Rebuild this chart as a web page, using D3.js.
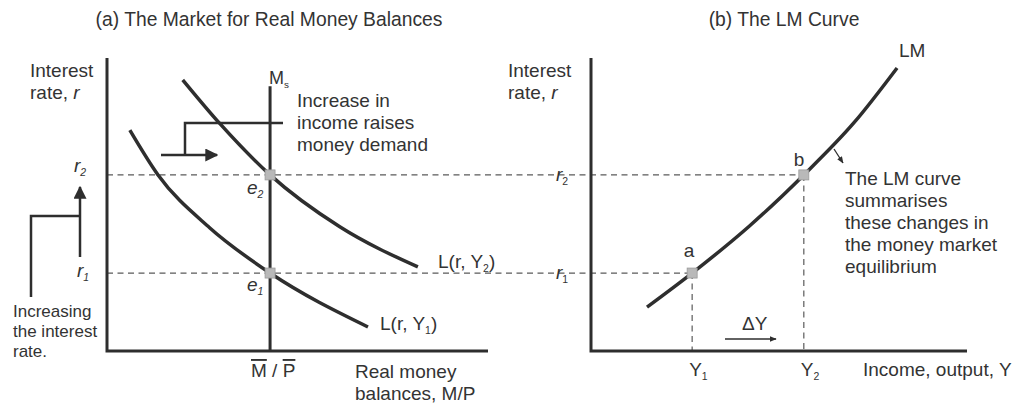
<!DOCTYPE html>
<html>
<head>
<meta charset="utf-8">
<script src="https://cdn.jsdelivr.net/npm/d3@7/dist/d3.min.js"></script>
<style>
  html, body { margin: 0; padding: 0; background: #fff; }
  svg { display: block; }
  text { font-family: "Liberation Sans", Arial, sans-serif; fill: #333; }
</style>
</head>
<body>
<svg id="chart" width="1032" height="403"></svg>
<script>
// Interest rate levels (shared vertical scale, 0–100)
const rateLabels = ["r1", "r2"];
const rateValues = [26.6, 60.1];

// Income levels on the LM panel (0–100)
const incomeLabels = ["Y1", "Y2"];
const incomeValues = [26.9, 56.6];

// Real money supply (vertical Ms line) on the money-market panel
const moneySupply = 42.8;
const moneySupplyTop = 90.4;

// Money demand curves L(r, Y): [real balances, interest rate]
const demandY1 = [[6.0, 75.4], [13.4, 60.1], [27.0, 42.0], [42.8, 26.6], [68.5, 8.2]];
const demandY2 = [[19.9, 92.5], [29.7, 77.5], [42.8, 60.1], [61.2, 42.3], [81.6, 28.7]];

// LM curve: [income, interest rate]
const lmCurve = [[14.9, 15.0], [26.9, 26.6], [42.0, 42.5], [56.6, 60.1], [70.0, 78.0], [81.4, 96.6]];

const svg = d3.select("#chart");
const ink = "#2e2e2e";
const dashInk = "#5a5a5a";

// Scales
const y = d3.scaleLinear().domain([0, 100]).range([351, 58]);
const xL = d3.scaleLinear().domain([0, 100]).range([107, 488]);
const xR = d3.scaleLinear().domain([0, 100]).range([591, 967]);

// Arrowhead markers
const defs = svg.append("defs");
defs.append("marker").attr("id", "headBig")
  .attr("viewBox", "0 0 10 10").attr("refX", 9).attr("refY", 5)
  .attr("markerUnits", "userSpaceOnUse").attr("markerWidth", 13).attr("markerHeight", 13)
  .attr("orient", "auto")
  .append("path").attr("d", "M0,0 L10,5 L0,10 Z").attr("fill", ink);
defs.append("marker").attr("id", "headSmall")
  .attr("viewBox", "0 0 10 10").attr("refX", 9).attr("refY", 5)
  .attr("markerUnits", "userSpaceOnUse").attr("markerWidth", 7).attr("markerHeight", 7)
  .attr("orient", "auto")
  .append("path").attr("d", "M0,1 L10,5 L0,9 Z").attr("fill", ink);

// Text helper
function label(x, yy, str, size = 19, opts = {}) {
  const t = svg.append("text").attr("x", x).attr("y", yy)
    .attr("font-size", size).attr("text-anchor", opts.anchor || "start");
  if (opts.italic) t.attr("font-style", "italic");
  t.text(str);
  return t;
}
function subLabel(x, yy, main, sub, size = 19, opts = {}) {
  const t = svg.append("text").attr("x", x).attr("y", yy)
    .attr("font-size", size).attr("text-anchor", opts.anchor || "start");
  const m = t.append("tspan").text(main);
  if (opts.italic) m.attr("font-style", "italic");
  const s = t.append("tspan").attr("font-size", size * 0.55).attr("dy", size * 0.22).text(sub);
  if (opts.italicSub) s.attr("font-style", "italic");
  if (opts.after) t.append("tspan").attr("font-size", size).attr("dy", -size * 0.22).text(opts.after);
  return t;
}

// Dashed guide lines for r1, r2 across both panels
const dashes = svg.append("g").attr("stroke", dashInk).attr("stroke-width", 1.2)
  .attr("stroke-dasharray", "6,4.5").attr("fill", "none");
rateValues.forEach((r, i) => {
  dashes.append("line").attr("x1", xL(0)).attr("x2", xR(incomeValues[i]))
    .attr("y1", y(r)).attr("y2", y(r));
  dashes.append("line").attr("x1", xR(incomeValues[i])).attr("x2", xR(incomeValues[i]))
    .attr("y1", y(r)).attr("y2", y(0));
});

// Axes (plain L-shaped frames)
const axes = svg.append("g").attr("stroke", ink).attr("stroke-width", 3).attr("fill", "none");
axes.append("path").attr("d", `M${xL(0)},${y(100)} L${xL(0)},${y(0)} L${xL(100)},${y(0)}`);
axes.append("path").attr("d", `M${xR(0)},${y(100)} L${xR(0)},${y(0)} L${xR(100)},${y(0)}`);

// Money supply line
svg.append("line").attr("x1", xL(moneySupply)).attr("x2", xL(moneySupply))
  .attr("y1", y(moneySupplyTop)).attr("y2", y(0))
  .attr("stroke", ink).attr("stroke-width", 3);

// Demand curves
const lineL = d3.line().x(d => xL(d[0])).y(d => y(d[1])).curve(d3.curveMonotoneX);
[demandY1, demandY2].forEach(data => {
  svg.append("path").attr("d", lineL(data)).attr("fill", "none")
    .attr("stroke", ink).attr("stroke-width", 3.5);
});

// LM curve
const lineR = d3.line().x(d => xR(d[0])).y(d => y(d[1])).curve(d3.curveMonotoneX);
svg.append("path").attr("d", lineR(lmCurve)).attr("fill", "none")
  .attr("stroke", ink).attr("stroke-width", 3.5);

// Equilibrium markers
const eqPoints = rateValues.map(r => [xL(moneySupply), y(r)])
  .concat(rateValues.map((r, i) => [xR(incomeValues[i]), y(r)]));
svg.append("g").selectAll("rect").data(eqPoints).join("rect")
  .attr("x", d => d[0] - 5).attr("y", d => d[1] - 5)
  .attr("width", 10).attr("height", 10)
  .attr("fill", "#b9b9b9").attr("stroke", "#9a9a9a").attr("stroke-width", 0.8);

// Titles
label(269, 26, "(a) The Market for Real Money Balances", 19.3, { anchor: "middle" });
label(784, 26, "(b) The LM Curve", 19.3, { anchor: "middle" });

// Left panel axis labels
const yl1 = svg.append("text").attr("x", 30).attr("y", 77).attr("font-size", 19);
yl1.text("Interest");
const yl2 = svg.append("text").attr("x", 30).attr("y", 99).attr("font-size", 19);
yl2.append("tspan").text("rate, ");
yl2.append("tspan").attr("font-style", "italic").text("r");

const yr1 = svg.append("text").attr("x", 508).attr("y", 77).attr("font-size", 19);
yr1.text("Interest");
const yr2 = svg.append("text").attr("x", 508).attr("y", 99).attr("font-size", 19);
yr2.append("tspan").text("rate, ");
yr2.append("tspan").attr("font-style", "italic").text("r");

// Ms label
subLabel(xL(moneySupply) - 1, 84, "M", "s", 18);

// M/P with bars
const mp = svg.append("text").attr("x", 251).attr("y", 377).attr("font-size", 19);
mp.append("tspan").style("text-decoration", "overline").text("M");
mp.append("tspan").text(" / ");
mp.append("tspan").style("text-decoration", "overline").text("P");

label(355, 378, "Real money", 19);
label(355, 400, "balances, M/P", 19);

// Demand curve labels
subLabel(438, 268, "L(r, Y", "2", 19, { after: ")" });
subLabel(380, 330, "L(r, Y", "1", 19, { after: ")" });

// Equilibrium labels
subLabel(247, 194, "e", "2", 19, { italic: true, italicSub: true });
subLabel(247, 291, "e", "1", 19, { italic: true, italicSub: true });

// Rate labels, left side
subLabel(74, 172, "r", "2", 19, { italic: true, italicSub: true });
subLabel(77, 277, "r", "1", 19, { italic: true, italicSub: true });

// Rate labels on the LM panel axis
rateValues.forEach((r, i) => {
  subLabel(556, y(r) + 6, "r", rateLabels[i].slice(1), 19, { italic: true });
});

// Income labels
incomeValues.forEach((v, i) => {
  subLabel(xR(v) - 3, 376, "Y", incomeLabels[i].slice(1), 19);
});
label(863, 376, "Income, output, Y", 19);

// Point labels
label(689, 257, "a", 19, { anchor: "middle" });
label(799, 166, "b", 19, { anchor: "middle" });
label(899, 57, "LM", 19);

// Annotation: increase in income shifts money demand
const ann = svg.append("g").attr("stroke", ink).attr("stroke-width", 2.5).attr("fill", "none");
ann.append("path").attr("d", "M283,123 L185,123 L185,155");
ann.append("line").attr("x1", 161).attr("y1", 155).attr("x2", 217).attr("y2", 155)
  .attr("marker-end", "url(#headBig)");
label(297, 107, "Increase in", 19);
label(297, 129, "income raises", 19);
label(297, 151, "money demand", 19);

// Annotation: increasing the interest rate
ann.append("path").attr("d", "M31,297 L31,216 L80,216");
ann.append("line").attr("x1", 80).attr("y1", 257).attr("x2", 80).attr("y2", 187)
  .attr("marker-end", "url(#headBig)");
label(13, 317, "Increasing", 17);
label(13, 337, "the interest", 17);
label(13, 357, "rate.", 17);

// Annotation: LM curve note
svg.append("line").attr("x1", 834).attr("y1", 149).attr("x2", 843).attr("y2", 163)
  .attr("stroke", ink).attr("stroke-width", 1.3).attr("marker-end", "url(#headSmall)");
["The LM curve", "summarises", "these changes in", "the money market", "equilibrium"]
  .forEach((s, i) => label(845, 185 + 22 * i, s, 19));

// Delta Y arrow
svg.append("line").attr("x1", 725).attr("y1", 339).attr("x2", 776).attr("y2", 339)
  .attr("stroke", ink).attr("stroke-width", 1.3).attr("marker-end", "url(#headSmall)");
label(742, 330, "\u0394Y", 19);
</script>
</body>
</html>
